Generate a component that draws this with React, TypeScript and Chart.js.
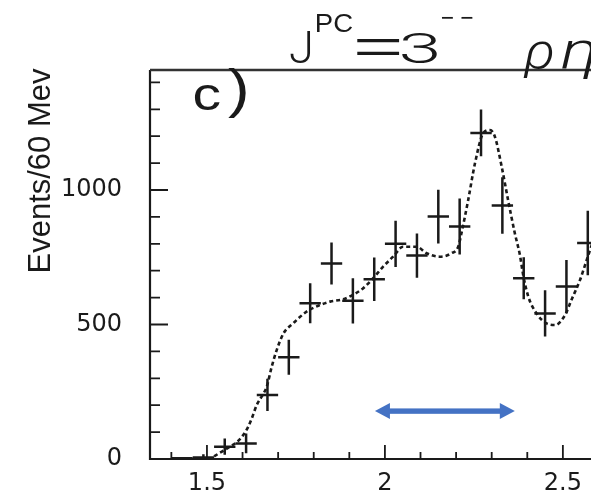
import React, { useEffect, useRef } from "react";
import { Chart, registerables } from "chart.js";

Chart.register(...registerables);

// ---- data ----
const MASS = [1.43, 1.49, 1.55, 1.61, 1.67, 1.73, 1.79, 1.85, 1.91, 1.97, 2.03, 2.09, 2.15, 2.21, 2.27, 2.33, 2.39, 2.45, 2.51, 2.57];
const EVENTS = [3, 6, 46, 58, 238, 378, 579, 727, 588, 668, 800, 756, 901, 864, 1212, 942, 672, 541, 641, 803];
const ERRORS = [4, 12, 30, 37, 60, 65, 74, 78, 84, 81, 86, 82, 100, 104, 87, 105, 78, 86, 99, 120];
const BIN_HALF = 0.03;

const FIT_MASS = [1.52, 1.545, 1.565, 1.59, 1.602, 1.616, 1.626, 1.64, 1.655, 1.668, 1.682, 1.696, 1.715, 1.742, 1.78, 1.817, 1.846, 1.883, 1.91, 1.939, 1.967, 1.995, 2.023, 2.051, 2.089, 2.117, 2.154, 2.187, 2.206, 2.215, 2.234, 2.253, 2.276, 2.295, 2.309, 2.328, 2.346, 2.365, 2.379, 2.389, 2.403, 2.426, 2.454, 2.478, 2.506, 2.524, 2.548, 2.567, 2.59];
const FIT_EVENTS = [10, 30, 46, 70, 89, 120, 151, 201, 235, 269, 343, 405, 467, 504, 548, 572, 585, 594, 610, 635, 672, 715, 752, 789, 789, 765, 752, 765, 789, 839, 963, 1099, 1211, 1223, 1198, 1087, 963, 839, 760, 680, 603, 541, 504, 498, 535, 591, 665, 740, 830];

const X_TICKS = [1.5, 2, 2.5];
const X_MINOR = [1.4, 1.6, 1.7, 1.8, 1.9, 2.1, 2.2, 2.3, 2.4];
const Y_TICKS = [0, 500, 1000];
const Y_MINOR = [100, 200, 300, 400, 600, 700, 800, 900, 1100, 1200, 1300, 1400];

const ARROW_MASS = [1.972, 2.365];
const ARROW_EVENTS = 178;

const X_MIN = 1.34;
const X_MAX = 2.579;
const Y_MIN = 0;
const Y_MAX = 1446;

const INK = "#1a1a1a";
const BLUE = "#4472C4";
const W = 591;
const H = 490;

// draw text so that its glyph box fills the given rectangle
function fitText(ctx: CanvasRenderingContext2D, text: string, left: number, top: number, right: number, bottom: number, font: string) {
  ctx.save();
  ctx.font = font;
  ctx.textAlign = "left";
  ctx.textBaseline = "alphabetic";
  const m = ctx.measureText(text);
  const gw = m.actualBoundingBoxLeft + m.actualBoundingBoxRight;
  const gh = m.actualBoundingBoxAscent + m.actualBoundingBoxDescent;
  const sx = (right - left) / gw;
  const sy = (bottom - top) / gh;
  ctx.translate(left + m.actualBoundingBoxLeft * sx, top + m.actualBoundingBoxAscent * sy);
  ctx.scale(sx, sy);
  ctx.fillText(text, 0, 0);
  ctx.restore();
}

const errorBars = {
  id: "errorBars",
  afterDatasetsDraw(chart: any) {
    const { ctx, chartArea: a, scales } = chart;
    const x = scales.x;
    const y = scales.y;
    ctx.save();
    ctx.beginPath();
    ctx.rect(a.left, a.top - 30, a.right - a.left, a.bottom - a.top + 30);
    ctx.clip();
    ctx.strokeStyle = INK;
    ctx.lineWidth = 2.5;
    MASS.forEach((m, i) => {
      const px = x.getPixelForValue(m);
      const py = y.getPixelForValue(EVENTS[i]);
      ctx.beginPath();
      ctx.moveTo(x.getPixelForValue(m - BIN_HALF), py);
      ctx.lineTo(x.getPixelForValue(m + BIN_HALF), py);
      ctx.moveTo(px, y.getPixelForValue(EVENTS[i] - ERRORS[i]));
      ctx.lineTo(px, y.getPixelForValue(EVENTS[i] + ERRORS[i]));
      ctx.stroke();
    });
    ctx.restore();
  },
};

const decorations = {
  id: "decorations",
  afterDraw(chart: any) {
    const { ctx, chartArea: a, scales } = chart;
    const x = scales.x;
    const y = scales.y;
    ctx.save();
    // frame
    ctx.strokeStyle = INK;
    ctx.lineWidth = 2.2;
    ctx.beginPath();
    ctx.moveTo(a.left, a.top);
    ctx.lineTo(a.left, a.bottom);
    ctx.lineTo(a.right, a.bottom);
    ctx.stroke();
    ctx.strokeStyle = "#333";
    ctx.lineWidth = 2.6;
    ctx.beginPath();
    ctx.moveTo(a.left, a.top);
    ctx.lineTo(a.right, a.top);
    ctx.stroke();

    // inward ticks
    ctx.strokeStyle = INK;
    ctx.lineWidth = 1.8;
    ctx.beginPath();
    X_TICKS.forEach((v) => {
      const p = x.getPixelForValue(v);
      ctx.moveTo(p, a.bottom);
      ctx.lineTo(p, a.bottom - 14);
    });
    X_MINOR.forEach((v) => {
      const p = x.getPixelForValue(v);
      ctx.moveTo(p, a.bottom);
      ctx.lineTo(p, a.bottom - 7);
    });
    Y_TICKS.forEach((v) => {
      const p = y.getPixelForValue(v);
      ctx.moveTo(a.left, p);
      ctx.lineTo(a.left + 18, p);
    });
    Y_MINOR.forEach((v) => {
      const p = y.getPixelForValue(v);
      ctx.moveTo(a.left, p);
      ctx.lineTo(a.left + 10, p);
    });
    ctx.stroke();

    // title  J^PC = 3^--  rho eta
    ctx.fillStyle = INK;
    const sans = "'Liberation Sans', Arial, sans-serif";
    const light = "Roboto, 'Liberation Sans', sans-serif";
    fitText(ctx, "J", 290, 32, 310, 63, `300 43px ${light}`);
    fitText(ctx, "PC", 317, 13, 353, 32, `25px ${sans}`);
    fitText(ctx, "=", 357, 39, 400, 55, `300 43px ${light}`);
    fitText(ctx, "3", 402, 33, 438, 63, `300 43px ${light}`);
    fitText(ctx, "\u2212 \u2212", 442, 16, 473, 19, `25px ${sans}`);
    fitText(ctx, "\u03C1", 523, 40, 553, 78, `italic 300 44px ${light}`);
    fitText(ctx, "\u03B7", 562, 40, 594, 79, `italic 300 44px ${light}`);

    // panel label
    fitText(ctx, "c", 195, 85, 220, 110, `48px ${sans}`);
    fitText(ctx, ")", 228, 68, 247, 118, `48px ${sans}`);

    // y axis title
    ctx.save();
    ctx.translate(50, 171);
    ctx.rotate(-Math.PI / 2);
    ctx.font = `31px ${sans}`;
    ctx.textAlign = "center";
    ctx.textBaseline = "alphabetic";
    ctx.fillText("Events/60 Mev", 0, 0);
    ctx.restore();

    // blue double arrow
    const x1 = x.getPixelForValue(ARROW_MASS[0]);
    const x2 = x.getPixelForValue(ARROW_MASS[1]);
    const ay = y.getPixelForValue(ARROW_EVENTS);
    const head = 15;
    const hh = 8;
    ctx.fillStyle = BLUE;
    ctx.fillRect(x1 + head - 1, ay - 2.7, x2 - x1 - 2 * head + 2, 5.4);
    ctx.beginPath();
    ctx.moveTo(x1, ay);
    ctx.lineTo(x1 + head, ay - hh);
    ctx.lineTo(x1 + head, ay + hh);
    ctx.closePath();
    ctx.fill();
    ctx.beginPath();
    ctx.moveTo(x2, ay);
    ctx.lineTo(x2 - head, ay - hh);
    ctx.lineTo(x2 - head, ay + hh);
    ctx.closePath();
    ctx.fill();
    ctx.restore();
  },
};

export default function App() {
  const ref = useRef<HTMLCanvasElement | null>(null);

  useEffect(() => {
    if (!ref.current) return;
    const chart = new Chart(ref.current, {
      type: "scatter",
      data: {
        datasets: [
          {
            type: "line",
            data: FIT_MASS.map((m, i) => ({ x: m, y: FIT_EVENTS[i] })),
            borderColor: INK,
            borderWidth: 2.6,
            borderDash: [4, 3],
            pointRadius: 0,
            fill: false,
            cubicInterpolationMode: "monotone",
          } as any,
        ],
      },
      options: {
        animation: false,
        responsive: false,
        events: [],
        layout: { padding: { top: 70, left: 0, right: 0, bottom: 0 } },
        plugins: {
          legend: { display: false },
          tooltip: { enabled: false },
          title: { display: false },
        },
        scales: {
          x: {
            type: "linear",
            min: X_MIN,
            max: X_MAX,
            grid: { display: false, drawTicks: false, tickLength: 0 },
            border: { display: false },
            ticks: {
              font: { family: "'DejaVu Sans'", size: 24 },
              color: INK,
              padding: 10,
              maxRotation: 0,
              autoSkip: false,
              callback: (v: any) => String(v),
            },
            afterBuildTicks: (s: any) => {
              s.ticks = X_TICKS.map((v) => ({ value: v }));
            },
            afterFit: (s: any) => {
              s.height = 31;
              s.paddingLeft = 0;
              s.paddingRight = 0;
            },
          },
          y: {
            type: "linear",
            min: Y_MIN,
            max: Y_MAX,
            grid: { display: false, drawTicks: false, tickLength: 0 },
            border: { display: false },
            ticks: {
              font: { family: "'DejaVu Sans'", size: 24 },
              color: INK,
              padding: 28,
              autoSkip: false,
              callback: (v: any) => String(v),
            },
            afterBuildTicks: (s: any) => {
              s.ticks = Y_TICKS.map((v) => ({ value: v }));
            },
            afterFit: (s: any) => {
              s.width = 150;
              s.paddingTop = 0;
              s.paddingBottom = 0;
            },
          },
        },
      } as any,
      plugins: [errorBars, decorations],
    });
    return () => chart.destroy();
  }, []);

  return (
    <div style={{ position: "absolute", left: 0, top: 0, width: W, height: H, background: "#fff" }}>
      <canvas ref={ref} width={W} height={H} style={{ display: "block", width: W, height: H }} />
    </div>
  );
}
